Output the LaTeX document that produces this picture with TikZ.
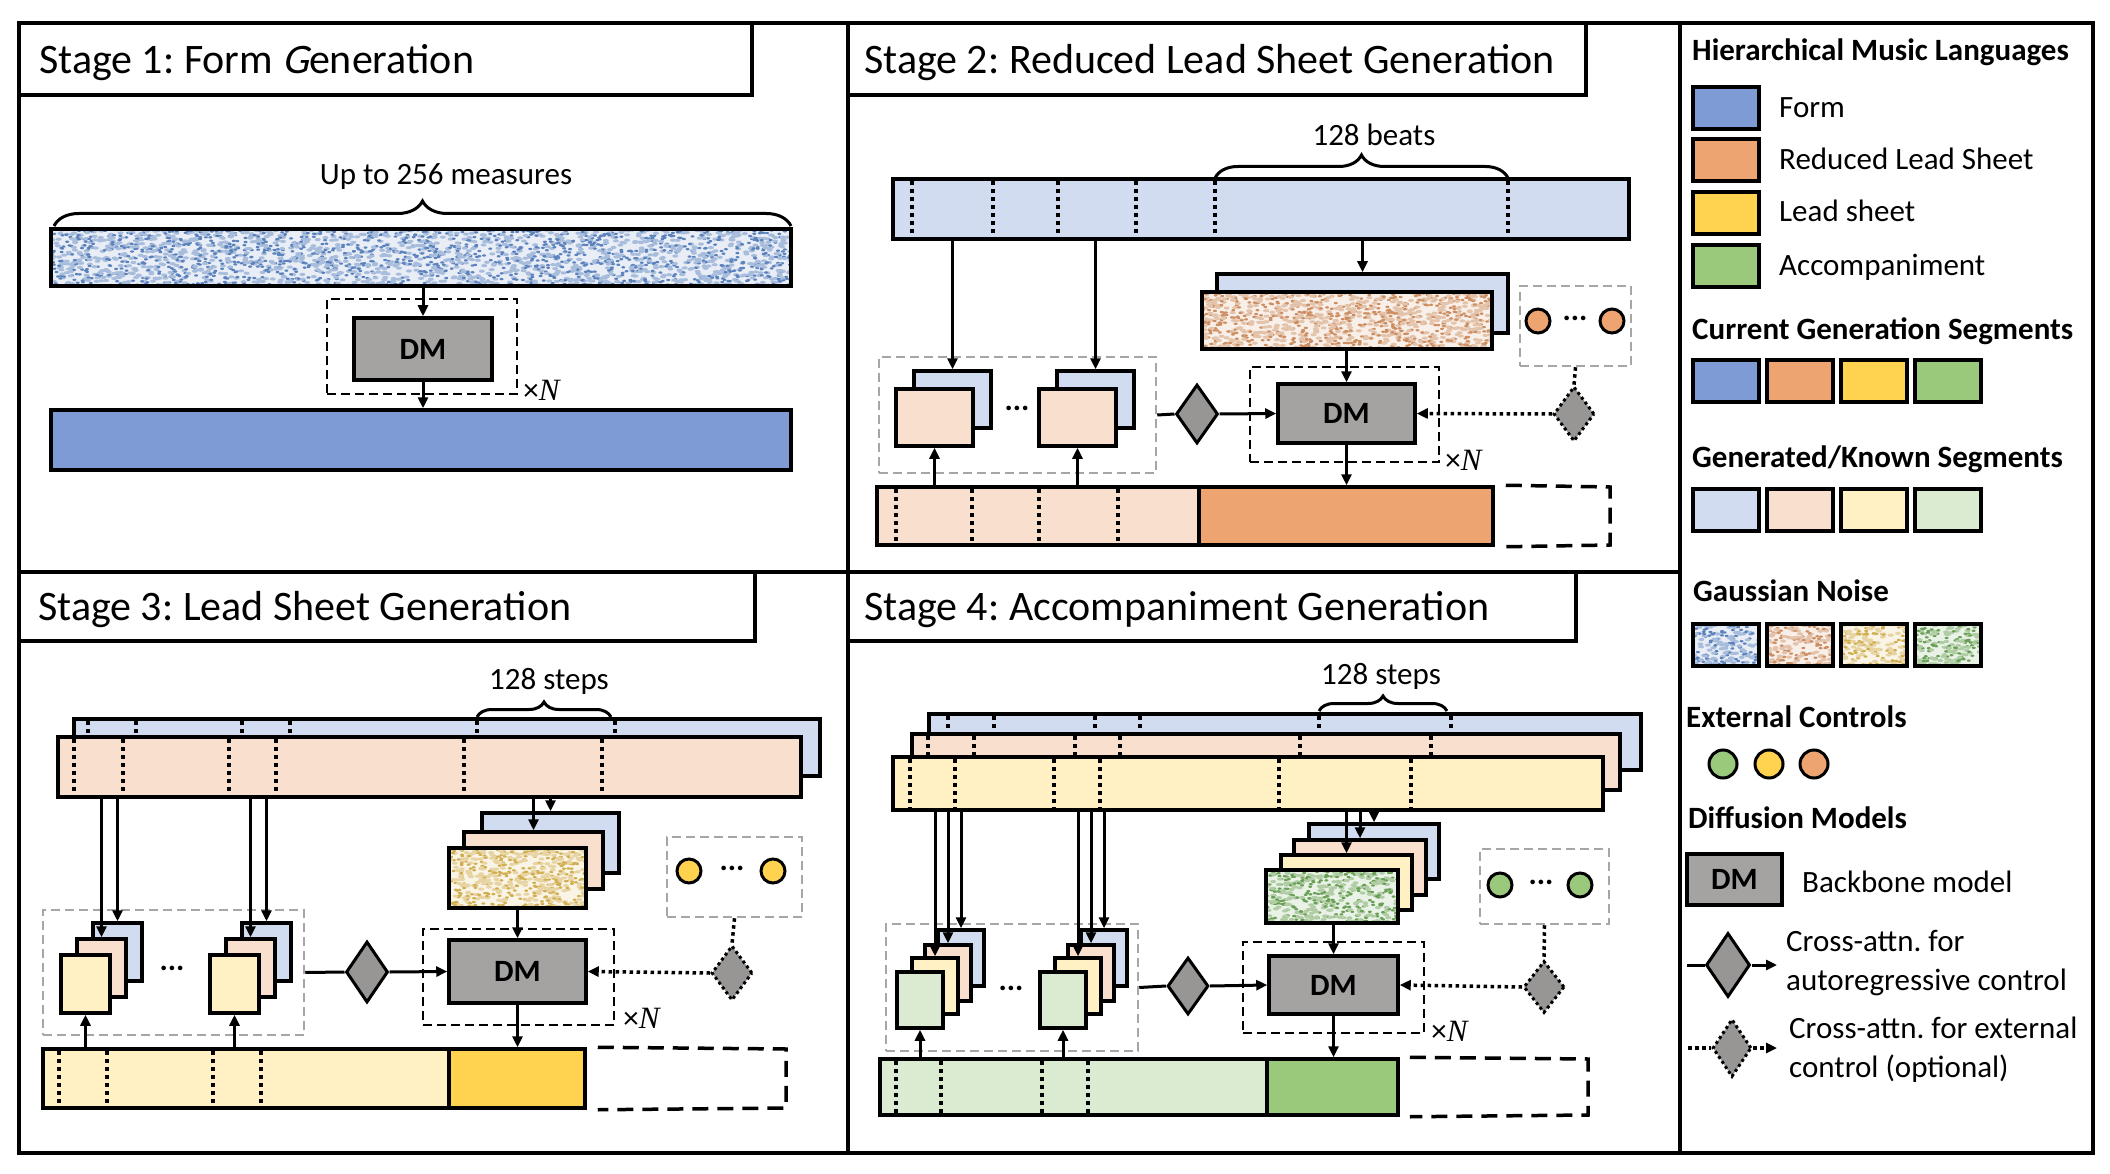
\documentclass[tikz,border=0pt]{standalone}
\usepackage{fontspec}
\setmainfont{Carlito}
\newfontfamily\serifit{Liberation Serif}
\newfontfamily\slantsans[FakeSlant=0.22]{Carlito}
\frenchspacing
\usetikzlibrary{arrows.meta,calc,fit,positioning,shapes.geometric,decorations.pathreplacing}

\definecolor{formblue}{HTML}{7E9BD5}
\definecolor{rlsorange}{HTML}{EEA470}
\definecolor{leadyellow}{HTML}{FFD24F}
\definecolor{accgreen}{HTML}{9BC97C}
\definecolor{formlight}{HTML}{D1DCF0}
\definecolor{rlslight}{HTML}{F8DFCE}
\definecolor{leadlight}{HTML}{FFF1C4}
\definecolor{acclight}{HTML}{DAEBD2}
\definecolor{dmgray}{HTML}{A5A2A2}
\definecolor{attngray}{HTML}{989595}
\definecolor{nblue}{HTML}{3E6CB2}
\definecolor{norange}{HTML}{C47A45}
\definecolor{nyellow}{HTML}{C9A030}
\definecolor{ngreen}{HTML}{4F8F38}

\tikzset{
stages/.style={x=1pt,y=-1pt,>={Triangle[length=11pt,width=10pt]}},
panel/.style={draw,line width=4pt,inner sep=0pt},
stagetitle/.style={anchor=base west,inner sep=0pt,font=\fontsize{42}{50}\selectfont},
spanlabel/.style={anchor=base,inner sep=0pt,font=\fontsize{31}{36}\selectfont},
repeatlabel/.style={anchor=west,inner sep=0pt,font=\fontsize{31}{36}\selectfont},
ellip/.style={inner sep=0pt,font=\fontsize{31}{36}\selectfont\bfseries},
seg/.style={draw,line width=3.5pt,inner sep=0pt,fill=#1},
swatch/.style={seg=#1,minimum width=66pt,minimum height=42pt},
noise/.style 2 args={draw,line width=3.5pt,inner sep=0pt,fill=#1!12,
    path picture={
        \path let \p1=(path picture bounding box.south west),
                  \p2=(path picture bounding box.north east) in
            \pgfextra{\xdef\noisex{\x1}\xdef\noisey{\y1}%
                      \xdef\noisew{\x2-\x1}\xdef\noiseh{\y2-\y1}};
        \foreach \k in {1,...,#2}{
            \fill[#1!45] ({\noisex+rnd*(\noisew)},{\noisey+rnd*(\noiseh)})
                ellipse (3pt and 1.6pt);
            \fill[#1!85] ({\noisex+rnd*(\noisew)},{\noisey+rnd*(\noiseh)})
                ellipse (2pt and 1.2pt);
        }
    }},
dmbox/.style={draw,line width=3.5pt,fill=dmgray,inner sep=0pt,
    font=\fontsize{31}{36}\selectfont\bfseries},
dmframe/.style={draw,line width=2.5pt,dash pattern=on 9pt off 5pt,inner sep=0pt},
stack/.style={draw=gray!70,line width=2.5pt,dash pattern=on 9pt off 5pt,inner sep=0pt},
slot/.style={line width=3.5pt,dash pattern=on 16pt off 9pt},
attn/.style={diamond,draw,line width=3pt,fill=attngray,inner sep=0pt,
    minimum width=42pt,minimum height=59pt},
extattn/.style={attn,dash pattern=on 3pt off 3pt,minimum width=41pt,minimum height=55pt},
ctrl/.style={circle,draw,line width=3pt,fill=#1,inner sep=0pt,minimum size=24pt},
flow/.style={->,line width=3pt},
extline/.style={line width=3.5pt,dash pattern=on 3.5pt off 3.5pt},
extflow/.style={extline,->},
bardots/.style={line width=4pt,dash pattern=on 4pt off 4pt},
curly/.style={decorate,decoration={brace,amplitude=#1},line width=3pt},
legtext/.style={anchor=base west,inner sep=0pt,font=\fontsize{31}{36}\selectfont},
leghead/.style={legtext,font=\fontsize{31}{36}\selectfont\bfseries},
}

\begin{document}
\pgfmathsetseed{42}
\begin{tikzpicture}[stages]

\path[use as bounding box,fill=white] (0,0) rectangle (2110,1174);

% panels and headings
\node[panel,fit={(19,23) (848,572)}] (panel1) {};
\node[panel,fit={(848,23) (1680,572)}] (panel2) {};
\node[panel,fit={(19,572) (848,1153)}] (panel3) {};
\node[panel,fit={(848,572) (1680,1153)}] (panel4) {};
\node[panel,fit={(1680,23) (2093,1153)}] (legend) {};

\node[panel,fit={(19,23) (752,95)}] (head1) {};
\node[stagetitle] (title1) at (39,74) {Stage 1: Form {\slantsans G}eneration};
\node[panel,fit={(848,23) (1586,95)}] (head2) {};
\node[stagetitle] (title2) at (864,74) {Stage 2: Reduced Lead Sheet Generation};
\node[panel,fit={(19,572) (755,641)}] (head3) {};
\node[stagetitle] (title3) at (38,620) {Stage 3: Lead Sheet Generation};
\node[panel,fit={(848,572) (1576,641)}] (head4) {};
\node[stagetitle] (title4) at (864,620) {Stage 4: Accompaniment Generation};

% stage 1
\draw[curly=25pt] (54,226) -- (791,226);
\node[spanlabel] (span1) at (446,185) {Up to 256 measures};
\node[noise={nblue}{1300},fit={(51,229) (791,286)}] (noise1) {};
\node[dmframe,fit={(327,299) (517,394)}] (rep1) {};
\node[dmbox,minimum width=138pt,minimum height=62pt] (dm1) at (423,349) {DM};
\node[repeatlabel] (times1) at ([shift={(5pt,5pt)}]rep1.south east) {×{\serifit\itshape N}};
\node[seg=formblue,fit={(51,410) (791,470)}] (form1) {};
\draw[flow] (noise1.south -| dm1.north) -- (dm1.north);
\draw[flow] (dm1.south) -- (dm1.south |- form1.north);

% stage 2
\draw[curly=23pt] (1215,178) -- (1508,178);
\node[spanlabel] (span2) at (1374,146) {128 beats};
\node[seg=formlight,fit={(893,179) (1629,239)}] (form2) {};
\foreach \x in {912,993,1058,1136,1215,1508}
    \draw[bardots] (\x,181) -- (\x,237);
\node[seg=formlight,fit={(1217,274) (1508,333)}] (ctx2) {};
\node[noise={norange}{550},fit={(1202,292) (1492,349)}] (noise2) {};
\node[stack,fit={(879,357) (1156,473)}] (hist2) {};
\node[seg=formlight,fit={(914,371) (991,428)}] (k2a) {};
\node[seg=rlslight,fit={(896,389) (973,446)}] (r2a) {};
\node[seg=formlight,fit={(1057,371) (1134,428)}] (k2b) {};
\node[seg=rlslight,fit={(1039,389) (1116,446)}] (r2b) {};
\node[ellip] (gap2) at (1017,408) {...};
\node[dmframe,fit={(1250,367) (1439,462)}] (rep2) {};
\node[dmbox,minimum width=137pt,minimum height=59pt] (dm2) at (1346.5,413.5) {DM};
\node[repeatlabel] (times2) at ([shift={(5pt,3pt)}]rep2.south east) {×{\serifit\itshape N}};
\node[attn] (ar2) at (1197,414) {};
\node[stack,fit={(1520,286) (1631,366)}] (ext2) {};
\node[ctrl=rlsorange] (c2a) at (1538,321) {};
\node[ctrl=rlsorange] (c2b) at (1612,321) {};
\node[ellip] (cgap2) at (1575,318) {...};
\node[extattn] (ea2) at (1574,414) {};
\node[seg=rlslight,fit={(877,487) (1199,545)}] (past2) {};
\foreach \x in {896,972,1039,1118}
    \draw[bardots] (\x,489) -- (\x,543);
\node[seg=rlsorange,fit={(1199,487) (1493,545)}] (cur2) {};
\draw[slot] ([xshift=11pt]cur2.north east) -- (1610,487) -- (1610,545)
    -- ([xshift=11pt]cur2.south east);

\draw[flow] (form2.south -| k2a.north) -- (k2a.north);
\draw[flow] (form2.south -| k2b.north) -- (k2b.north);
\draw[flow] (form2.south -| ctx2.north) -- (ctx2.north);
\draw[flow] (noise2.south -| dm2.north) -- (dm2.north);
\draw[flow] (dm2.south) -- (dm2.south |- cur2.north);
\draw[flow] (past2.north -| r2a.south) -- (r2a.south);
\draw[flow] (past2.north -| r2b.south) -- (r2b.south);
\draw[line width=3pt] (hist2.east) -- (ar2.west);
\draw[flow] (ar2.east) -- (dm2.west);
\draw[extline] (ext2.south) -- (ea2.north);
\draw[extflow] (ea2.west) -- (dm2.east);

% stage 3
\draw[curly=15pt] (477,717) -- (611,717);
\draw[curly=14pt] (466,735) -- (603,735);
\node[spanlabel] (span3) at (549,689) {128 steps};
\node[seg=formlight,fit={(74,719) (820,776)}] (form3) {};
\foreach \x in {88,136,242,290,477,615}
    \draw[bardots] (\x,721) -- (\x,774);
\node[seg=rlslight,fit={(58,737) (801,797)}] (rls3) {};
\foreach \x in {74,123,229,276,464,602}
    \draw[bardots] (\x,739) -- (\x,795);
\node[seg=formlight,fit={(482,813) (619,873)}] (ctxf3) {};
\node[seg=rlslight,fit={(464,832) (603,889)}] (ctxr3) {};
\node[noise={nyellow}{280},fit={(449,848) (586,908)}] (noise3) {};
\node[stack,fit={(43,910) (304,1035)}] (hist3) {};
\node[seg=formlight,fit={(93,923) (142,981)}] (k3a) {};
\node[seg=rlslight,fit={(77,939) (126,997)}] (r3a) {};
\node[seg=leadlight,fit={(61,955) (110,1013)}] (l3a) {};
\node[seg=formlight,fit={(242,923) (291,981)}] (k3b) {};
\node[seg=rlslight,fit={(226,939) (275,997)}] (r3b) {};
\node[seg=leadlight,fit={(210,955) (259,1013)}] (l3b) {};
\node[ellip] (gap3) at (172,968) {...};
\node[dmframe,fit={(423,929) (614,1025)}] (rep3) {};
\node[dmbox,minimum width=137pt,minimum height=63pt] (dm3) at (517.5,971.5) {DM};
\node[repeatlabel] (times3) at ([shift={(8pt,8pt)}]rep3.south east) {×{\serifit\itshape N}};
\node[attn,minimum height=61pt] (ar3) at (367,972) {};
\node[stack,fit={(667,837) (802,917)}] (ext3) {};
\node[ctrl=leadyellow] (c3a) at (689,871) {};
\node[ctrl=leadyellow] (c3b) at (773,871) {};
\node[ellip] (cgap3) at (732,868) {...};
\node[extattn] (ea3) at (732,973) {};
\node[seg=leadlight,fit={(43,1049) (449,1108)}] (past3) {};
\foreach \x in {59,107,213,261}
    \draw[bardots] (\x,1051) -- (\x,1106);
\node[seg=leadyellow,fit={(449,1049) (585,1108)}] (cur3) {};
\draw[slot] ([xshift=11pt]cur3.north east) -- (786,1049) -- (786,1108)
    -- ([xshift=11pt]cur3.south east);

\draw[flow] (rls3.south -| r3a.north) -- (r3a.north);
\draw[flow] (rls3.south -| k3a.north) -- (k3a.north);
\draw[flow] (rls3.south -| r3b.north) -- (r3b.north);
\draw[flow] (rls3.south -| k3b.north) -- (k3b.north);
\draw[flow] (rls3.south -| ctxr3.north) -- (ctxr3.north);
\draw[flow] (rls3.south -| ctxf3.north) -- (ctxf3.north);
\draw[flow] (noise3.south -| dm3.north) -- (dm3.north);
\draw[flow] (dm3.south) -- (dm3.south |- cur3.north);
\draw[flow] (past3.north -| l3a.south) -- (l3a.south);
\draw[flow] (past3.north -| l3b.south) -- (l3b.south);
\draw[line width=3pt] (hist3.east) -- (ar3.west);
\draw[flow] (ar3.east) -- (dm3.west);
\draw[extline] (ext3.south) -- (ea3.north);
\draw[extflow] (ea3.west) -- (dm3.east);

% stage 4
\draw[curly=15pt] (1319,711) -- (1447,711);
\draw[curly=14pt] (1301,731) -- (1428,731);
\draw[curly=17pt] (1279,754) -- (1409,754);
\node[spanlabel] (span4) at (1381,684) {128 steps};
\node[seg=formlight,fit={(929,714) (1641,770)}] (form4) {};
\foreach \x in {948,994,1095,1140,1319,1451}
    \draw[bardots] (\x,716) -- (\x,768);
\node[seg=rlslight,fit={(912,734) (1620,790)}] (rls4) {};
\foreach \x in {928,974,1075,1120,1300,1431}
    \draw[bardots] (\x,736) -- (\x,788);
\node[seg=leadlight,fit={(893,757) (1603,810)}] (lead4) {};
\foreach \x in {910,955,1054,1100,1279,1411}
    \draw[bardots] (\x,759) -- (\x,808);
\node[seg=formlight,fit={(1309,824) (1439,879)}] (ctxf4) {};
\node[seg=rlslight,fit={(1294,840) (1426,895)}] (ctxr4) {};
\node[seg=leadlight,fit={(1281,855) (1412,910)}] (ctxl4) {};
\node[noise={ngreen}{240},fit={(1266,870) (1398,923)}] (noise4) {};
\node[stack,fit={(886,924) (1138,1051)}] (hist4) {};
\node[seg=formlight,fit={(938,930) (984,986)}] (k4a) {};
\node[seg=rlslight,fit={(925,945) (971,1001)}] (r4a) {};
\node[seg=leadlight,fit={(912,958) (958,1014)}] (l4a) {};
\node[seg=acclight,fit={(897,972) (943,1028)}] (a4a) {};
\node[seg=formlight,fit={(1081,930) (1127,986)}] (k4b) {};
\node[seg=rlslight,fit={(1068,945) (1114,1001)}] (r4b) {};
\node[seg=leadlight,fit={(1055,958) (1101,1014)}] (l4b) {};
\node[seg=acclight,fit={(1040,972) (1086,1028)}] (a4b) {};
\node[ellip] (gap4) at (1011,988) {...};
\node[dmframe,fit={(1243,942) (1424,1033)}] (rep4) {};
\node[dmbox,minimum width=129pt,minimum height=58pt] (dm4) at (1333.5,985) {DM};
\node[repeatlabel] (times4) at ([shift={(6pt,3pt)}]rep4.south east) {×{\serifit\itshape N}};
\node[attn,minimum width=41pt,minimum height=57pt] (ar4) at (1188,986) {};
\node[stack,fit={(1480,849) (1609,924)}] (ext4) {};
\node[ctrl=accgreen] (c4a) at (1500,885) {};
\node[ctrl=accgreen] (c4b) at (1580,885) {};
\node[ellip] (cgap4) at (1541,882) {...};
\node[extattn,minimum height=52pt] (ea4) at (1544,987) {};
\node[seg=acclight,fit={(880,1059) (1267,1115)}] (past4) {};
\foreach \x in {896,941,1042,1088}
    \draw[bardots] (\x,1061) -- (\x,1113);
\node[seg=accgreen,fit={(1267,1059) (1398,1115)}] (cur4) {};
\draw[slot] ([xshift=10pt]cur4.north east) -- (1588,1059) -- (1588,1115)
    -- ([xshift=10pt]cur4.south east);

\foreach \g in {a,b}{
    \draw[flow] (lead4.south -| l4\g.north) -- (l4\g.north);
    \draw[flow] (lead4.south -| r4\g.north) -- (r4\g.north);
    \draw[flow] (lead4.south -| k4\g.north) -- (k4\g.north);
    \draw[flow] (past4.north -| a4\g.south) -- (a4\g.south);
}
\draw[flow] (lead4.south -| ctxl4.north) -- (ctxl4.north);
\draw[flow] (lead4.south -| ctxr4.north) -- (ctxr4.north);
\draw[flow] (lead4.south -| ctxf4.north) -- (ctxf4.north);
\draw[flow] (noise4.south -| dm4.north) -- (dm4.north);
\draw[flow] (dm4.south) -- (dm4.south |- cur4.north);
\draw[line width=3pt] (hist4.east) -- (ar4.west);
\draw[flow] (ar4.east) -- (dm4.west);
\draw[extline] (ext4.south) -- (ea4.north);
\draw[extflow] (ea4.west) -- (dm4.east);

% legend
\node[leghead] (hml) at (1692,61) {Hierarchical Music Languages};
\node[swatch=formblue] (lgform) at (1726,108) {};
\node[legtext] (lgformtxt) at (1779,118) {Form};
\node[swatch=rlsorange] (lgrls) at (1726,160) {};
\node[legtext] (lgrlstxt) at (1779,170) {Reduced Lead Sheet};
\node[swatch=leadyellow] (lglead) at (1726,213) {};
\node[legtext] (lgleadtxt) at (1779,222) {Lead sheet};
\node[swatch=accgreen] (lgacc) at (1726,266) {};
\node[legtext] (lgacctxt) at (1779,276) {Accompaniment};

\node[leghead] (cgs) at (1692,340) {Current Generation Segments};
\node[swatch=formblue] (cg1) at (1726,381) {};
\node[swatch=rlsorange,right=4.5pt of cg1] (cg2) {};
\node[swatch=leadyellow,right=4.5pt of cg2] (cg3) {};
\node[swatch=accgreen,right=4.5pt of cg3] (cg4) {};

\node[leghead] (gks) at (1692,467) {Generated/Known Segments};
\node[swatch=formlight] (gk1) at (1726,510) {};
\node[swatch=rlslight,right=4.5pt of gk1] (gk2) {};
\node[swatch=leadlight,right=4.5pt of gk2] (gk3) {};
\node[swatch=acclight,right=4.5pt of gk3] (gk4) {};

\node[leghead] (gn) at (1693,601) {Gaussian Noise};
\node[noise={nblue}{90},minimum width=66pt,minimum height=42pt] (gn1) at (1726,645) {};
\node[noise={norange}{90},minimum width=66pt,minimum height=42pt,right=4.5pt of gn1] (gn2) {};
\node[noise={nyellow}{90},minimum width=66pt,minimum height=42pt,right=4.5pt of gn2] (gn3) {};
\node[noise={ngreen}{90},minimum width=66pt,minimum height=42pt,right=4.5pt of gn3] (gn4) {};

\node[leghead] (ec) at (1686,727) {External Controls};
\node[ctrl=accgreen,minimum size=28pt] (ec1) at (1723,764) {};
\node[ctrl=leadyellow,minimum size=28pt] (ec2) at (1769,764) {};
\node[ctrl=rlsorange,minimum size=28pt] (ec3) at (1814,764) {};

\node[leghead] (dms) at (1688,828) {Diffusion Models};
\node[dmbox,minimum width=95pt,minimum height=51pt] (lgdm) at (1734.5,879.5) {DM};
\node[legtext] (lgdmtxt) at (1802,892) {Backbone model};

\coordinate (lgin1) at (1687,965);
\node[attn,minimum width=44pt,minimum height=64pt] (lgar) at (1728,965) {};
\coordinate (lgout1) at (1777,965);
\draw[line width=3pt] (lgin1) -- (lgar.west);
\draw[flow] (lgar.east) -- (lgout1);
\node[legtext] (lgartxt1) at (1786,951) {Cross-attn. for};
\node[legtext] (lgartxt2) at (1786,990) {autoregressive control};

\coordinate (lgin2) at (1688,1048);
\node[extattn,minimum width=39pt,minimum height=58pt] (lgea) at (1732,1048) {};
\coordinate (lgout2) at (1777,1048);
\draw[extline] (lgin2) -- (lgea.west);
\draw[extflow] (lgea.east) -- (lgout2);
\node[legtext] (lgeatxt1) at (1789,1038) {Cross-attn. for external};
\node[legtext] (lgeatxt2) at (1789,1077) {control (optional)};

\end{tikzpicture}
\end{document}
